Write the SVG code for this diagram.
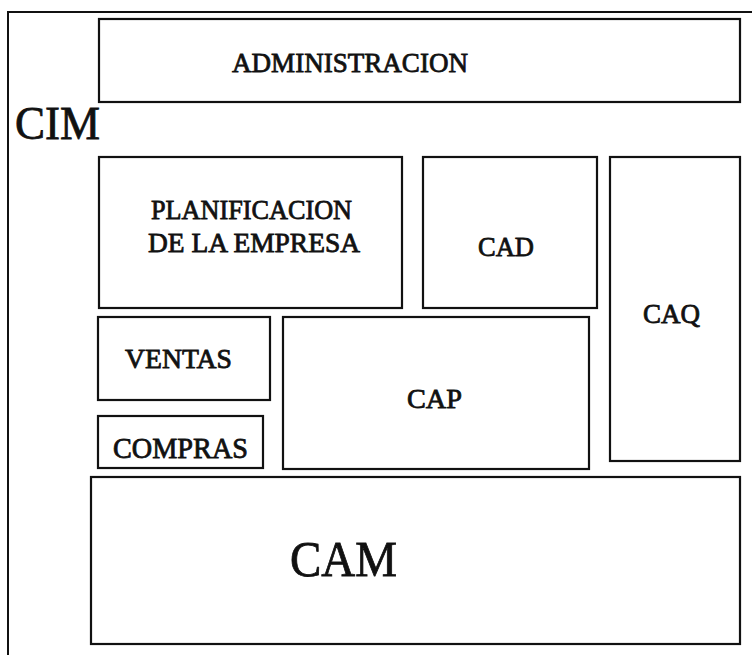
<svg xmlns="http://www.w3.org/2000/svg" width="752" height="655" viewBox="0 0 752 655">
<style>
.box{fill:none;stroke:#111;stroke-width:2.2}
.frame{fill:none;stroke:#111;stroke-width:2}
text{font-family:"Liberation Serif","Times New Roman",serif;fill:#111;stroke:#111;stroke-width:0.8}
</style>
<rect width="752" height="655" fill="#fff"/>
<g id="cim">
<path class="frame" d="M8,655 V12 H752"/>
<text x="15" y="139" font-size="47" textLength="85" lengthAdjust="spacingAndGlyphs">CIM</text>
</g>
<g id="administracion">
<rect class="box" x="99" y="19" width="641" height="83"/>
<text x="232" y="72" font-size="28" textLength="236" lengthAdjust="spacingAndGlyphs">ADMINISTRACION</text>
</g>
<g id="planificacion">
<rect class="box" x="99" y="157" width="303" height="151"/>
<text x="151" y="219" font-size="28" textLength="201" lengthAdjust="spacingAndGlyphs">PLANIFICACION</text>
<text x="148" y="252" font-size="28" textLength="212" lengthAdjust="spacingAndGlyphs">DE LA EMPRESA</text>
</g>
<g id="cad">
<rect class="box" x="423" y="157" width="174" height="151"/>
<text x="478" y="256" font-size="28" textLength="56" lengthAdjust="spacingAndGlyphs">CAD</text>
</g>
<g id="caq">
<rect class="box" x="610" y="157" width="130" height="304"/>
<text x="643" y="323" font-size="28" textLength="57" lengthAdjust="spacingAndGlyphs">CAQ</text>
</g>
<g id="ventas">
<rect class="box" x="98" y="317" width="172" height="83"/>
<text x="125" y="368" font-size="28" textLength="107" lengthAdjust="spacingAndGlyphs">VENTAS</text>
</g>
<g id="compras">
<rect class="box" x="98" y="416" width="165" height="52"/>
<text x="113" y="458" font-size="29" textLength="135" lengthAdjust="spacingAndGlyphs">COMPRAS</text>
</g>
<g id="cap">
<rect class="box" x="283" y="317" width="306" height="152"/>
<text x="407" y="408" font-size="28" textLength="55" lengthAdjust="spacingAndGlyphs">CAP</text>
</g>
<g id="cam">
<rect class="box" x="91" y="477" width="649" height="167"/>
<text x="290" y="576" font-size="50" textLength="107" lengthAdjust="spacingAndGlyphs">CAM</text>
</g>
<g id="connectors"></g>
</svg>
